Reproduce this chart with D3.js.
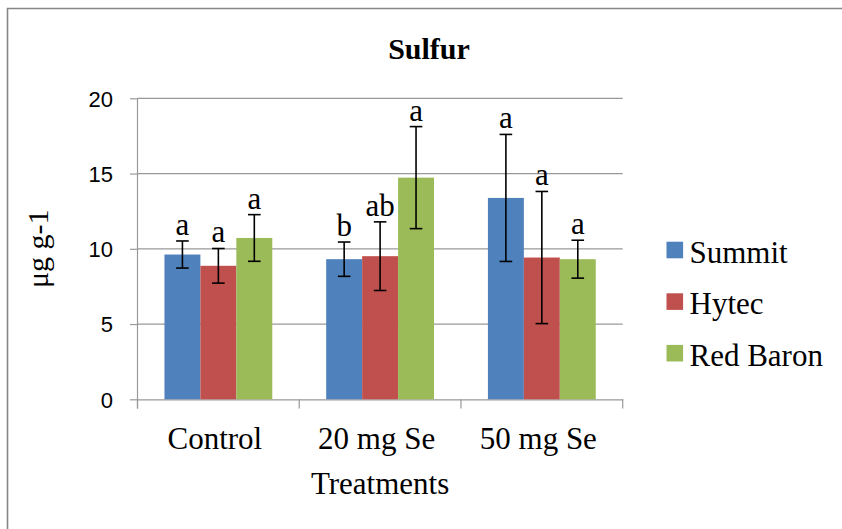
<!DOCTYPE html>
<html>
<head>
<meta charset="utf-8">
<script src="https://cdn.jsdelivr.net/npm/d3@7"></script>
<style>
  html, body { margin: 0; padding: 0; background: #fff; }
  svg { display: block; }
</style>
</head>
<body>
<svg id="chart" width="842" height="529"></svg>
<script>
const categories = ["Control", "20 mg Se", "50 mg Se"];
const seriesNames = ["Summit", "Hytec", "Red Baron"];
const summit   = [9.62, 9.31, 13.38];
const hytec    = [8.87, 9.51, 9.42];
const redBaron = [10.72, 14.73, 9.31];
const summitErr   = [0.90, 1.14, 4.22];
const hytecErr    = [1.15, 2.28, 4.39];
const redBaronErr = [1.55, 3.39, 1.26];
const summitLetters   = ["a", "b", "a"];
const hytecLetters    = ["a", "ab", "a"];
const redBaronLetters = ["a", "a", "a"];
const yTicks = [0, 5, 10, 15, 20];

const colors = ["#4F81BD", "#C0504D", "#9BBB59"];
const values = [summit, hytec, redBaron];
const errs = [summitErr, hytecErr, redBaronErr];
const letters = [summitLetters, hytecLetters, redBaronLetters];

const svg = d3.select("#chart");
const pLeft = 137.5, pRight = 622.7, pTop = 98.3, pBottom = 399.3;

const x = d3.scaleBand().domain(categories).range([pLeft, pRight]).padding(0);
const y = d3.scaleLinear().domain([0, 20]).range([pBottom, pTop]);
const bw = x.bandwidth();
const barW = bw / 4.5;
const inner = d3.scaleBand().domain(seriesNames).range([0.75 * barW, 3.75 * barW]).padding(0);

// outer border
svg.append("path")
  .attr("d", "M7.5,535 L7.5,8.5 L850,8.5")
  .attr("fill", "none").attr("stroke", "#868686").attr("stroke-width", 1.6);

// gridlines
svg.append("g").selectAll("line").data(yTicks.filter(d => d > 0)).join("line")
  .attr("x1", pLeft).attr("x2", pRight)
  .attr("y1", d => y(d)).attr("y2", d => y(d))
  .attr("stroke", "#999").attr("stroke-width", 1.2);

// y axis
const yAxis = svg.append("g").attr("transform", `translate(${pLeft},0)`)
  .call(d3.axisLeft(y).tickValues(yTicks).tickSize(7.5).tickPadding(17).tickFormat(d3.format("d")));
yAxis.select(".domain").remove();
yAxis.selectAll(".tick line").attr("stroke", "#999").attr("stroke-width", 1.2);
yAxis.selectAll(".tick text").attr("font-family", "'Liberation Sans', Arial, sans-serif")
  .attr("font-size", 22).attr("fill", "#000").attr("dy", "0.36em");
svg.append("line").attr("x1", pLeft).attr("x2", pLeft).attr("y1", pTop).attr("y2", 408.5)
  .attr("stroke", "#999").attr("stroke-width", 1.2);

// x axis
const xAxis = svg.append("g").attr("transform", `translate(0,${pBottom})`)
  .call(d3.axisBottom(x).tickSize(0).tickFormat(""));
xAxis.select(".domain").attr("stroke", "#999").attr("stroke-width", 1.2);
xAxis.selectAll(".tick").remove();
const boundaries = categories.map(c => x(c)).concat([x(categories[categories.length - 1]) + bw]);
svg.append("g").selectAll("line").data(boundaries).join("line")
  .attr("x1", d => d).attr("x2", d => d).attr("y1", pBottom).attr("y2", 408.5)
  .attr("stroke", "#999").attr("stroke-width", 1.2);

// category labels
svg.append("g").selectAll("text").data(categories).join("text")
  .attr("x", d => x(d) + bw / 2 - 3.5).attr("y", 449)
  .attr("text-anchor", "middle")
  .attr("font-family", "'Liberation Serif', 'Times New Roman', serif")
  .attr("font-size", 31).attr("fill", "#000")
  .text(d => d);

// bars
const flat = [];
seriesNames.forEach((s, si) => {
  categories.forEach((c, ci) => {
    flat.push({ s, si, c, v: values[si][ci], e: errs[si][ci], l: letters[si][ci] });
  });
});

svg.append("g").selectAll("rect").data(flat).join("rect")
  .attr("x", d => x(d.c) + inner(d.s))
  .attr("width", inner.bandwidth())
  .attr("y", d => y(d.v))
  .attr("height", d => y(0) - y(d.v))
  .attr("fill", d => colors[d.si]);

// error bars
const eg = svg.append("g").attr("stroke", "#000").attr("stroke-width", 1.6);
flat.forEach(d => {
  const cx = x(d.c) + inner(d.s) + inner.bandwidth() / 2;
  const y1 = y(d.v + d.e), y2 = y(d.v - d.e);
  eg.append("line").attr("x1", cx).attr("x2", cx).attr("y1", y1).attr("y2", y2);
  eg.append("line").attr("x1", cx - 6.3).attr("x2", cx + 6.3).attr("y1", y1).attr("y2", y1);
  eg.append("line").attr("x1", cx - 6.3).attr("x2", cx + 6.3).attr("y1", y2).attr("y2", y2);
});

// letters
svg.append("g").selectAll("text").data(flat).join("text")
  .attr("x", d => x(d.c) + inner(d.s) + inner.bandwidth() / 2)
  .attr("y", d => y(d.v + d.e) - 6)
  .attr("text-anchor", "middle")
  .attr("font-family", "'Liberation Serif', 'Times New Roman', serif")
  .attr("font-size", 31).attr("fill", "#000")
  .text(d => d.l);

// title
svg.append("text").attr("x", 429).attr("y", 58.5).attr("text-anchor", "middle")
  .attr("font-family", "'Liberation Serif', 'Times New Roman', serif")
  .attr("font-weight", "bold").attr("font-size", 30).attr("fill", "#000")
  .text("Sulfur");

// y axis title
svg.append("text")
  .attr("transform", `translate(48,${(pTop + pBottom) / 2}) rotate(-90)`)
  .attr("text-anchor", "middle")
  .attr("font-family", "'Liberation Serif', 'Times New Roman', serif")
  .attr("font-size", 30).attr("fill", "#000")
  .text("μg g-1");

// x axis title
svg.append("text").attr("x", (pLeft + pRight) / 2).attr("y", 494).attr("text-anchor", "middle")
  .attr("font-family", "'Liberation Serif', 'Times New Roman', serif")
  .attr("font-size", 31).attr("fill", "#000")
  .text("Treatments");

// legend
const lg = svg.append("g").selectAll("g").data(seriesNames).join("g")
  .attr("transform", (d, i) => `translate(666.5,${250 + i * 51.6})`);
lg.append("rect").attr("x", 0).attr("y", -8.3).attr("width", 16.6).attr("height", 16.6)
  .attr("fill", (d, i) => colors[i]);
lg.append("text").attr("x", 23).attr("y", 12.5)
  .attr("font-family", "'Liberation Serif', 'Times New Roman', serif")
  .attr("font-size", 31).attr("fill", "#000")
  .text(d => d);
</script>
</body>
</html>
